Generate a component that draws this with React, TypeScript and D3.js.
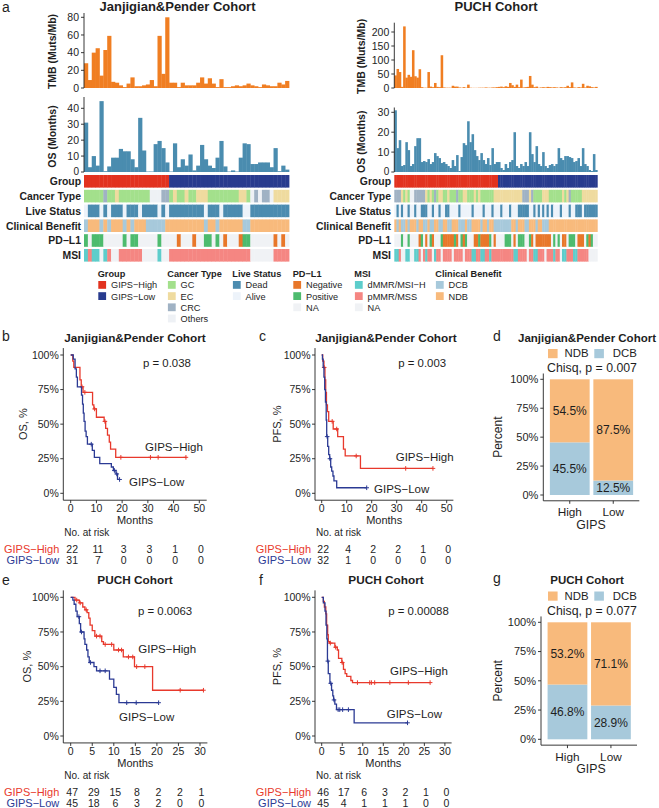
import React from "react";
import * as d3 from "d3";

const FONT = "'Liberation Sans', Arial, Helvetica, sans-serif";
const TXT = "#1e1e1e";

// ---------------- colours ----------------
const COL: Record<string, string> = {
  high: "#E2321F", low: "#283B8E",
  GC: "#A3E08C", EC: "#EFDB9F", CRC: "#A0B2C4", Others: "#EEF1F5",
  Dead: "#4C8CB0", Alive: "#EDF3FA",
  Neg: "#E8772A", Pos: "#4DBB6E", NA: "#F0F2F5",
  dMMR: "#5DCDCB", pMMR: "#F58682",
  DCB: "#A7C9DB", NDB: "#F8BA7C",
  tmb: "#F07E22", os: "#4A8CAF",
  kmHigh: "#E8392C", kmLow: "#2B3A94",
};

// run-length helper for categorical tracks
const rle = (segs: [string, number][]) => segs.flatMap(([c, n]) => Array(n).fill(c));

// ---------------- Panel a : Janjigian & Pender ----------------
const jpTMB = [28, 9, 40, 45, 14, 43, 59, 7, 6, 3, 1, 5, 12, 2, 2, 3, 4, 9, 2, 59, 16, 80, 6, 6, 1, 6, 3, 3, 3, 6, 12, 5, 11, 5, 1, 10, 1, 1, 2, 3, 2, 3, 5, 3, 2, 1, 4, 3, 2, 2, 6, 4, 8];
const jpOS = [31, 3, 10, 4, 44.5, 0.5, 3.5, 9, 9, 14.5, 13, 13, 8, 3, 34, 13.5, 0.3, 0.3, 17.5, 19.5, 15, 6, 0.3, 18, 3, 8, 4, 11, 1, 4, 17, 8, 4, 2.5, 9, 19.5, 3.5, 0.3, 1, 0.3, 9, 18, 17.5, 5, 5, 6, 6, 6, 3, 15, 0.5, 4, 1.5];
const jpGroup = rle([["H", 22], ["L", 31]]);
const jpCancer = rle([["G", 5], ["C", 1], ["G", 2], ["E", 1], ["G", 8], ["O", 3], ["C", 2], ["G", 1], ["E", 1], ["G", 2], ["E", 1], ["G", 2], ["E", 3], ["G", 8], ["E", 2], ["G", 1], ["O", 1], ["C", 1], ["O", 1], ["C", 2], ["O", 1], ["E", 4]]);
const jpLive = rle([["A", 1], ["D", 3], ["A", 1], ["D", 1], ["A", 1], ["D", 3], ["A", 1], ["D", 3], ["A", 1], ["D", 4], ["A", 1], ["D", 1], ["A", 1], ["D", 9], ["A", 1], ["D", 3], ["A", 1], ["D", 5], ["A", 2], ["D", 10]]);
const jpCB = rle([["B", 1], ["N", 3], ["B", 1], ["N", 1], ["B", 1], ["N", 3], ["B", 1], ["N", 1], ["B", 1], ["N", 3], ["B", 5], ["N", 10], ["B", 1], ["N", 2], ["B", 1], ["N", 6], ["B", 2], ["N", 10]]);
const jpPD = rle([["P", 1], ["X", 1], ["P", 3], ["X", 5], ["P", 1], ["X", 1], ["P", 2], ["X", 5], ["P", 1], ["X", 4], ["N", 1], ["X", 3], ["N", 1], ["X", 2], ["P", 2], ["X", 1], ["P", 1], ["X", 1], ["N", 1], ["X", 3], ["N", 1], ["P", 2], ["X", 6], ["N", 1], ["X", 1], ["N", 1], ["X", 1]]);
const jpMSI = rle([["T", 1], ["S", 1], ["T", 2], ["X", 1], ["T", 1], ["S", 1], ["X", 2], ["S", 6], ["X", 4], ["T", 1], ["X", 2], ["S", 21], ["X", 6], ["S", 4]]);

// ---------------- Panel a : PUCH ----------------
const puchTMB = [45, 68, 57, 4, 220, 37, 47, 40, 135, 42, 37, 67, 3, 1, 1, 57, 5, 3, 18, 4, 3, 117, 2, 1, 1, 1, 8, 5, 5, 2, 1, 3, 1, 12, 1, 0.5, 0.5, 0.5, 1, 1, 1, 2, 1, 1, 2, 2, 3,
  4, 5, 3, 6, 4, 18, 10, 4, 12, 3, 30, 2, 3, 4, 43, 12, 3, 5, 1, 2, 3, 2, 4, 3, 2, 3, 2, 1, 3, 2, 3, 8, 3, 20, 2, 1, 3, 2, 15, 2, 8, 6, 3, 2, 4];
const puchOS = [31, 12, 16, 3, 3.5, 15, 11, 3, 4, 13, 17, 17, 5, 5.5, 5, 6.5, 4, 5, 9.5, 8, 7, 4.5, 5, 4, 3, 2, 6, 3, 8.5, 0.5, 7.5, 14.5, 13.5, 25.5, 15, 19, 11, 8, 6, 9.5, 6, 4, 7, 3.5, 12, 4, 5,
  5, 2, 1, 4, 2, 5, 6, 20, 3, 2, 4, 3, 5, 3, 20, 9, 5, 13, 4, 3, 10, 3, 2, 3.5, 4, 3, 4, 12, 7, 6, 8, 8, 7.5, 7, 5, 5.5, 7, 3, 12, 4, 3, 1, 0.5, 9, 1];
const puchGroup = rle([["H", 47], ["L", 45]]);
const puchCancer = rle([["C", 3], ["E", 1], ["G", 1], ["E", 1], ["G", 1], ["O", 2], ["C", 5], ["E", 1], ["G", 1], ["E", 1], ["G", 1], ["C", 1], ["G", 1], ["E", 2], ["G", 2], ["E", 1], ["G", 3], ["C", 1], ["G", 2], ["E", 2], ["G", 3], ["E", 1], ["G", 1], ["E", 1], ["G", 6], ["E", 13], ["C", 3], ["E", 1], ["C", 1], ["G", 4], ["E", 3], ["G", 6], ["E", 1], ["G", 1], ["E", 1], ["C", 1], ["G", 5], ["E", 7]]);
const puchLive = rle([["A", 1], ["D", 1], ["A", 1], ["D", 1], ["A", 2], ["D", 1], ["A", 2], ["D", 1], ["A", 2], ["D", 3], ["A", 2], ["D", 1], ["A", 2], ["D", 1], ["A", 2], ["D", 2], ["A", 4], ["D", 1], ["A", 5], ["D", 1], ["A", 4], ["D", 1], ["A", 3], ["D", 1], ["A", 3], ["D", 1], ["A", 3], ["D", 1], ["A", 3], ["D", 5], ["A", 2], ["D", 1], ["A", 1], ["D", 1], ["A", 1], ["D", 1], ["A", 1], ["D", 1], ["A", 1], ["D", 1], ["A", 3], ["D", 1], ["A", 3], ["D", 1], ["A", 2], ["D", 3], ["A", 1], ["D", 6]]);
const puchCB = rle([["N", 1], ["B", 1], ["N", 1], ["B", 2], ["N", 1], ["B", 1], ["N", 3], ["B", 1], ["N", 2], ["B", 2], ["N", 1], ["B", 2], ["N", 2], ["B", 2], ["N", 2], ["B", 2], ["N", 3], ["B", 3], ["N", 1], ["B", 2], ["N", 4], ["B", 1], ["N", 2], ["B", 1], ["N", 2], ["B", 2],
  ["B", 6], ["N", 2], ["B", 1], ["N", 3], ["B", 2], ["N", 3], ["B", 1], ["N", 2], ["B", 3], ["N", 22]]);
const puchPD = rle([["X", 3], ["P", 1], ["X", 2], ["P", 1], ["X", 4], ["N", 1], ["P", 1], ["X", 1], ["N", 1], ["X", 1], ["P", 1], ["N", 1], ["X", 3], ["P", 1], ["N", 5], ["P", 1], ["N", 1], ["X", 1], ["P", 1], ["N", 1], ["P", 1], ["X", 3], ["N", 2], ["P", 1], ["N", 4], ["P", 1], ["X", 1], ["N", 1], ["X", 1],
  ["X", 3], ["P", 3], ["X", 1], ["N", 1], ["X", 1], ["P", 3], ["X", 2], ["P", 1], ["N", 1], ["X", 1], ["N", 7], ["X", 1], ["P", 1], ["X", 1], ["P", 1], ["X", 1], ["N", 2], ["X", 1], ["P", 3], ["X", 1], ["N", 3], ["X", 1], ["P", 1], ["N", 1], ["P", 1], ["X", 2]]);
const puchMSI = rle([["T", 2], ["S", 1], ["X", 2], ["T", 2], ["X", 2], ["T", 2], ["S", 1], ["X", 1], ["S", 1], ["T", 1], ["S", 2], ["X", 1], ["T", 1], ["S", 2], ["X", 1], ["S", 4], ["X", 1], ["S", 4], ["X", 1], ["S", 3], ["T", 2], ["S", 2], ["T", 2], ["S", 2], ["T", 1], ["S", 3],
  ["S", 7], ["T", 2], ["S", 4], ["X", 1], ["S", 2], ["T", 2], ["S", 3], ["X", 1], ["S", 3], ["T", 1], ["S", 2], ["X", 1], ["T", 2], ["S", 3], ["T", 2], ["S", 5], ["X", 4]]);

const mapGroup: Record<string, string> = { H: COL.high, L: COL.low };
const mapCancer: Record<string, string> = { G: COL.GC, E: COL.EC, C: COL.CRC, O: COL.Others };
const mapLive: Record<string, string> = { D: COL.Dead, A: COL.Alive };
const mapCB: Record<string, string> = { B: COL.DCB, N: COL.NDB };
const mapPD: Record<string, string> = { N: COL.Neg, P: COL.Pos, X: COL.NA };
const mapMSI: Record<string, string> = { T: COL.dMMR, S: COL.pMMR, X: COL.NA };
const trackNames = ["Group", "Cancer Type", "Live Status", "Clinical Benefit", "PD\u2212L1", "MSI"];

const legendGroups: { title: string; items: [string, string][] }[] = [
  { title: "Group", items: [["GIPS\u2212High", COL.high], ["GIPS\u2212Low", COL.low]] },
  { title: "Cancer Type", items: [["GC", COL.GC], ["EC", COL.EC], ["CRC", COL.CRC], ["Others", COL.Others]] },
  { title: "Live Status", items: [["Dead", COL.Dead], ["Alive", COL.Alive]] },
  { title: "PD\u2212L1", items: [["Negative", COL.Neg], ["Positive", COL.Pos], ["NA", COL.NA]] },
  { title: "MSI", items: [["dMMR/MSI\u2212H", COL.dMMR], ["pMMR/MSS", COL.pMMR], ["NA", COL.NA]] },
  { title: "Clinical Benefit", items: [["DCB", COL.DCB], ["NDB", COL.NDB]] },
];

// ---------------- KM data ----------------
type Curve = { t: number[]; s: number[]; end: number; cens: number[] };
const bHigh: Curve = { t: [0.8, 1.2, 3.6, 4.1, 4.8, 8.5, 9.0, 10.0, 13.0, 13.6, 14.3, 15.0, 15.5, 17.5], s: [0.955, 0.91, 0.82, 0.77, 0.73, 0.64, 0.61, 0.55, 0.52, 0.47, 0.42, 0.37, 0.32, 0.26], end: 45, cens: [4.4, 5.5, 9.3, 13.3, 19.5, 31, 34, 44.8] };
const bLow: Curve = { t: [1.0, 1.7, 2.2, 2.6, 4.2, 4.6, 4.9, 5.2, 5.6, 6.0, 6.5, 8.4, 9.2, 11.3, 15.8, 16.6, 17.6, 18.2], s: [0.97, 0.9, 0.84, 0.77, 0.71, 0.645, 0.58, 0.52, 0.45, 0.41, 0.355, 0.31, 0.26, 0.215, 0.19, 0.165, 0.14, 0.1], end: 19, cens: [8.0, 17.0, 17.9, 19] };
const cHigh: Curve = { t: [0.4, 0.9, 1.3, 1.6, 1.9, 2.3, 2.8, 4.6, 6.4, 8.7, 9.4, 15.5], s: [0.955, 0.91, 0.82, 0.73, 0.64, 0.59, 0.52, 0.465, 0.41, 0.32, 0.27, 0.18], end: 44.5, cens: [1.0, 4.2, 6.0, 13.8, 33.6, 44.5] };
const cLow: Curve = { t: [0.3, 0.6, 0.9, 1.2, 1.5, 1.8, 2.0, 2.4, 2.8, 3.2, 3.6, 4.0, 4.5, 4.9, 6.0], s: [0.97, 0.91, 0.84, 0.75, 0.66, 0.53, 0.41, 0.34, 0.28, 0.25, 0.19, 0.16, 0.125, 0.09, 0.04], end: 18, cens: [2.2, 3.3, 18] };
const eHigh: Curve = { t: [1.0, 2.0, 2.8, 3.3, 3.8, 4.2, 4.5, 5.0, 5.6, 7.2, 7.6, 10.0, 12.2, 14.8, 19.0], s: [0.98, 0.96, 0.93, 0.91, 0.89, 0.85, 0.8, 0.76, 0.72, 0.68, 0.66, 0.62, 0.57, 0.5, 0.33], end: 30.8, cens: [1.4, 2.2, 3.6, 6.0, 6.8, 8.0, 9.5, 11.1, 11.8, 13.4, 14.4, 15.3, 17.2, 25.4, 30.8] };
const eLow: Curve = { t: [0.5, 0.8, 1.2, 1.5, 2.0, 2.3, 3.1, 3.3, 3.7, 4.0, 4.3, 5.4, 6.0, 9.0, 10.0, 10.6, 11.2], s: [0.98, 0.95, 0.9, 0.86, 0.81, 0.75, 0.7, 0.66, 0.62, 0.57, 0.53, 0.5, 0.47, 0.41, 0.35, 0.3, 0.24], end: 20.4, cens: [1.9, 2.5, 4.6, 6.8, 8.0, 13.0, 15.2, 20.4] };
const fHigh: Curve = { t: [0.4, 0.65, 1.0, 1.2, 1.45, 1.6, 1.9, 3.2, 3.8, 4.1, 4.9, 5.3, 5.7, 6.1, 7.1, 7.5], s: [0.97, 0.93, 0.88, 0.8, 0.73, 0.68, 0.67, 0.64, 0.62, 0.56, 0.53, 0.48, 0.45, 0.43, 0.4, 0.385], end: 26.4, cens: [2.1, 3.4, 5.0, 8.7, 11.7, 12.1, 12.9, 16.6, 21.1, 26.4] };
const fLow: Curve = { t: [0.4, 0.8, 1.05, 1.25, 1.4, 1.6, 2.0, 2.4, 2.7, 2.9, 3.2, 3.6, 7.9], s: [0.96, 0.9, 0.8, 0.7, 0.54, 0.45, 0.38, 0.33, 0.29, 0.26, 0.23, 0.19, 0.095], end: 20.9, cens: [1.5, 2.2, 3.0, 4.0, 4.4, 5.1, 6.5, 20.9] };

const bRiskHigh = [22, 11, 3, 3, 1, 0];
const bRiskLow = [31, 7, 0, 0, 0, 0];
const cRiskHigh = [22, 4, 2, 2, 1, 0];
const cRiskLow = [32, 1, 0, 0, 0, 0];
const eRiskHigh = [47, 29, 15, 8, 2, 2, 1];
const eRiskLow = [45, 18, 6, 3, 2, 0, 0];
const fRiskHigh = [46, 17, 6, 3, 2, 1, 0];
const fRiskLow = [45, 4, 1, 1, 1, 0, 0];

// ---------------- stacked bar data ----------------
const gipsCats = ["High", "Low"];
const dDCB = [0.455, 0.125];
const gDCB = [0.468, 0.289];

// ====================================================
function RotText({ cx, cy, fs, bold, children }: any) {
  return (
    <text transform={`translate(${cx + 0.35 * fs},${cy}) rotate(-90)`} textAnchor="middle" fontSize={fs} fontWeight={bold ? "bold" : "normal"} fill={TXT}>
      {children}
    </text>
  );
}

function TopPanel(p: any) {
  const n = p.tmb.length;
  const x = d3.scaleBand<number>().domain(d3.range(n)).range([p.x0, p.x1]);
  const bw = x.bandwidth();
  const yT = d3.scaleLinear().domain([0, p.tmbTick]).range([88, p.tmbTickY]);
  const yO = d3.scaleLinear().domain([0, p.osTick]).range([172, p.osTickY]);
  const tracks = [
    [p.group, mapGroup], [p.cancer, mapCancer], [p.live, mapLive], [p.cb, mapCB], [p.pd, mapPD], [p.msi, mapMSI],
  ];
  const ax = p.x0;
  return (
    <g>
      <text x={p.titleX} y={11} textAnchor="middle" fontSize={13} fontWeight="bold" fill={TXT}>{p.title}</text>
      {p.tmb.map((v: number, i: number) => (
        <rect key={"t" + i} x={x(i)} y={yT(v)} width={bw + 0.35} height={88 - yT(v)} fill={COL.tmb} />
      ))}
      <line x1={ax} x2={ax} y1={p.tmbAxisTop} y2={88} stroke="#222" strokeWidth={0.9} />
      {yT.ticks(4).filter((t) => t <= p.tmbTick).map((t) => (
        <g key={"yt" + t}>
          <line x1={ax - 3} x2={ax} y1={yT(t)} y2={yT(t)} stroke="#222" strokeWidth={0.9} />
          <text x={ax - 5} y={yT(t) + 3.6} textAnchor="end" fontSize={10.5} fill={TXT}>{t}</text>
        </g>
      ))}
      <RotText cx={p.ylabX} cy={(p.tmbAxisTop + 88) / 2 + 1} fs={10.5} bold>TMB (Muts/Mb)</RotText>

      {p.os.map((v: number, i: number) => (
        <rect key={"o" + i} x={x(i)} y={yO(v)} width={bw + 0.35} height={172 - yO(v)} fill={COL.os} />
      ))}
      <line x1={ax} x2={ax} y1={p.osAxisTop} y2={172} stroke="#222" strokeWidth={0.9} />
      {p.osTicks.map((t: number) => (
        <g key={"ot" + t}>
          <line x1={ax - 3} x2={ax} y1={yO(t)} y2={yO(t)} stroke="#222" strokeWidth={0.9} />
          <text x={ax - 5} y={yO(t) + (t === 0 ? 2.6 : 3.6)} textAnchor="end" fontSize={t === 0 ? 10 : 10.5} fill={TXT}>{t}</text>
        </g>
      ))}
      <RotText cx={p.ylabX} cy={(p.osAxisTop + 172) / 2 + 2} fs={10.5} bold>OS (Months)</RotText>

      {tracks.map(([codes, cmap]: any, r: number) => {
        const y0 = 175 + r * 14.8;
        return (
          <g key={"tr" + r}>
            {codes.map((c: string, i: number) => (
              <rect key={i} x={x(i)} y={y0} width={bw + 0.4} height={12.6} fill={cmap[c]} />
            ))}
            <text x={p.rowLabelX} y={y0 + 6.3 + 3.9} textAnchor="end" fontSize={10.4} fontWeight="bold" fill={TXT}>{trackNames[r]}</text>
          </g>
        );
      })}
    </g>
  );
}

function Legend() {
  const xs = [97.7, 167.3, 232.3, 292.7, 354.3, 435.3];
  return (
    <g>
      {legendGroups.map((g, gi) => (
        <g key={gi}>
          <text x={xs[gi]} y={277} fontSize={9.2} fontWeight="bold" fill={TXT}>{g.title}</text>
          {g.items.map(([lab, col], i) => (
            <g key={i}>
              <rect x={xs[gi] + 0.6} y={281 + i * 11.2} width={7.8} height={7.8} fill={col} />
              <text x={xs[gi] + 13.3} y={281 + i * 11.2 + 7.3} fontSize={9.2} fill={TXT}>{lab}</text>
            </g>
          ))}
        </g>
      ))}
    </g>
  );
}

function KM(c: any) {
  const x = d3.scaleLinear().domain([0, c.tMax]).range([c.x0, c.x1]);
  const y = d3.scaleLinear().domain([0, 1]).range([c.yBot, c.yTop]);
  const ex = c.x0 - c.axisX;
  const ey = (c.yBot - c.yTop) * 0.05;
  const axisY = c.yBot + ey;
  const right = c.x1 + ex;
  const ticks = d3.range(0, c.tMax + 0.001, c.tStep);
  const yTicks = [0, 0.25, 0.5, 0.75, 1];
  const line = d3.line<[number, number]>().x((d) => x(d[0])).y((d) => y(d[1])).curve(d3.curveStepAfter);
  const survAt = (cv: Curve, t: number) => {
    let s = 1;
    cv.t.forEach((tt, i) => { if (tt <= t) s = cv.s[i]; });
    return s;
  };
  const drawCurve = (cv: Curve, col: string, key: string) => {
    const pts: [number, number][] = [[0, 1], ...cv.t.map((t, i) => [t, cv.s[i]] as [number, number]), [cv.end, cv.s[cv.s.length - 1]]];
    return (
      <g key={key}>
        <path d={line(pts) || ""} fill="none" stroke={col} strokeWidth={1.3} />
        {cv.cens.map((t, i) => {
          const cx = x(t), cy = y(survAt(cv, t));
          return <path key={i} d={`M${cx - 2.3},${cy}h4.6M${cx},${cy - 2.3}v4.6`} stroke={col} strokeWidth={1} />;
        })}
      </g>
    );
  };
  return (
    <g>
      <text x={c.letterX} y={c.letterY} fontSize={14} fill={TXT}>{c.letter}</text>
      <text x={c.titleX} y={c.titleY} textAnchor="middle" fontSize={11.8} fontWeight="bold" fill={TXT}>{c.title}</text>
      <line x1={c.axisX} x2={c.axisX} y1={c.yTop - ey} y2={axisY} stroke="#222" strokeWidth={0.9} />
      <line x1={c.axisX} x2={right} y1={axisY} y2={axisY} stroke="#222" strokeWidth={0.9} />
      {yTicks.map((t) => (
        <g key={"y" + t}>
          <line x1={c.axisX - 3} x2={c.axisX} y1={y(t)} y2={y(t)} stroke="#222" strokeWidth={0.9} />
          <text x={c.axisX - 4.5} y={y(t) + 3.7} textAnchor="end" fontSize={10.5} fill={TXT}>{`${t * 100}%`}</text>
        </g>
      ))}
      {ticks.map((t) => (
        <g key={"x" + t}>
          <line x1={x(t)} x2={x(t)} y1={axisY} y2={axisY + 3} stroke="#222" strokeWidth={0.9} />
          <text x={x(t)} y={axisY + 12} textAnchor="middle" fontSize={10.5} fill={TXT}>{t}</text>
        </g>
      ))}
      <text x={(c.axisX + right) / 2} y={axisY + 23.8} textAnchor="middle" fontSize={11} fill={TXT}>Months</text>
      <RotText cx={c.yLabelX} cy={(c.yTop + c.yBot) / 2} fs={11}>{c.yLabel}</RotText>
      {drawCurve(c.high, COL.kmHigh, "h")}
      {drawCurve(c.low, COL.kmLow, "l")}
      <text x={c.pX} y={c.pY} fontSize={11.4} fill={TXT}>{c.p}</text>
      <text x={c.hiLab[0]} y={c.hiLab[1]} fontSize={11.5} fill={TXT}>GIPS{"\u2212"}High</text>
      <text x={c.loLab[0]} y={c.loLab[1]} fontSize={11.5} fill={TXT}>GIPS{"\u2212"}Low</text>
      <text x={c.axisX + 1} y={axisY + 35.6} fontSize={10} fill={TXT}>No. at risk</text>
      <text x={c.axisX - 4} y={axisY + 52.6} textAnchor="end" fontSize={11} fill={COL.kmHigh}>GIPS{"\u2212"}High</text>
      <text x={c.axisX - 4} y={axisY + 63.6} textAnchor="end" fontSize={11} fill={COL.kmLow}>GIPS{"\u2212"}Low</text>
      {ticks.map((t, i) => (
        <g key={"r" + t}>
          <text x={x(t) + 1.5} y={axisY + 52.6} textAnchor="middle" fontSize={10.5} fill={TXT}>{c.riskHigh[i]}</text>
          <text x={x(t) + 1.5} y={axisY + 63.6} textAnchor="middle" fontSize={10.5} fill={TXT}>{c.riskLow[i]}</text>
        </g>
      ))}
    </g>
  );
}

function StackBar(c: any) {
  const x = d3.scaleBand<string>().domain(gipsCats).range([c.axisX + 3.1, c.axisX + 93.3]).paddingInner(0.085).paddingOuter(0.08);
  const y = d3.scaleLinear().domain([0, 1]).range([c.yBot, c.yTop]);
  const ey = (c.yBot - c.yTop) * 0.05;
  const axisY = c.yBot + ey;
  const pct = (v: number) => `${(v * 100).toFixed(1)}%`;
  return (
    <g>
      <text x={c.letterX} y={c.letterY} fontSize={14} fill={TXT}>{c.letter}</text>
      <text x={c.titleX} y={c.titleY} textAnchor="middle" fontSize={11.5} fontWeight="bold" fill={TXT}>{c.title}</text>
      <rect x={548} y={c.legY} width={9.6} height={9.2} fill={COL.NDB} />
      <text x={564.5} y={c.legY + 8.3} fontSize={11.4} fill={TXT}>NDB</text>
      <rect x={594.3} y={c.legY} width={9.6} height={9.2} fill={COL.DCB} />
      <text x={612.7} y={c.legY + 8.3} fontSize={11.4} fill={TXT}>DCB</text>
      <text x={592} y={c.chiY} textAnchor="middle" fontSize={12.3} fill={TXT}>{c.chi}</text>
      {gipsCats.map((g, i) => {
        const d = c.dcb[i];
        const bx = x(g) as number;
        const bw = x.bandwidth();
        return (
          <g key={g}>
            <rect x={bx} y={y(d)} width={bw} height={c.yBot - y(d)} fill={COL.DCB} />
            <rect x={bx} y={y(1)} width={bw} height={y(d) - y(1)} fill={COL.NDB} />
            <text x={bx + bw / 2} y={y((1 + d) / 2) + 4.2} textAnchor="middle" fontSize={12} fill={TXT}>{pct(1 - d)}</text>
            <text x={bx + bw / 2} y={y(d / 2) + 4.2} textAnchor="middle" fontSize={12} fill={TXT}>{pct(d)}</text>
            <line x1={bx + bw / 2} x2={bx + bw / 2} y1={axisY} y2={axisY + 3} stroke="#222" strokeWidth={0.9} />
            <text x={bx + bw / 2} y={axisY + 15.5} textAnchor="middle" fontSize={11.8} fill={TXT}>{g}</text>
          </g>
        );
      })}
      <line x1={c.axisX} x2={c.axisX} y1={c.yTop - ey} y2={axisY} stroke="#222" strokeWidth={0.9} />
      <line x1={c.axisX} x2={c.axisX + 96} y1={axisY} y2={axisY} stroke="#222" strokeWidth={0.9} />
      {[0, 0.25, 0.5, 0.75, 1].map((t) => (
        <g key={t}>
          <line x1={c.axisX - 3} x2={c.axisX} y1={y(t)} y2={y(t)} stroke="#222" strokeWidth={0.9} />
          <text x={c.axisX - 5} y={y(t) + 3.8} textAnchor="end" fontSize={11} fill={TXT}>{`${t * 100}%`}</text>
        </g>
      ))}
      <text x={591} y={axisY + 28} textAnchor="middle" fontSize={12.3} fill={TXT}>GIPS</text>
      <RotText cx={497.7} cy={(c.yTop + c.yBot) / 2} fs={12}>Percent</RotText>
    </g>
  );
}

export default function App() {
  return (
    <svg width={659} height={808} viewBox="0 0 659 808" fontFamily={FONT} style={{ position: "absolute", left: 0, top: 0, background: "#fff" }}>
      <rect width={659} height={808} fill="#fff" />
      <text x={2} y={12} fontSize={14} fill={TXT}>a</text>
      <TopPanel title="Janjigian&Pender Cohort" titleX={177.5} x0={84} x1={289}
        tmb={jpTMB} os={jpOS} tmbTick={80} tmbTickY={17.3} tmbAxisTop={13}
        osTick={40} osTickY={108.3} osTicks={[0, 10, 20, 30, 40]} osAxisTop={97}
        ylabX={52} rowLabelX={81}
        group={jpGroup} cancer={jpCancer} live={jpLive} cb={jpCB} pd={jpPD} msi={jpMSI} />
      <TopPanel title="PUCH Cohort" titleX={496} x0={394.3} x1={597.3}
        tmb={puchTMB} os={puchOS} tmbTick={200} tmbTickY={32} tmbAxisTop={22.7}
        osTick={30} osTickY={112.3} osTicks={[0, 10, 20, 30]} osAxisTop={107.5}
        ylabX={361} rowLabelX={391}
        group={puchGroup} cancer={puchCancer} live={puchLive} cb={puchCB} pd={puchPD} msi={puchMSI} />
      <Legend />

      <KM letter="b" letterX={2} letterY={341} title="Janjigian&Pender Cohort" titleX={135} titleY={342}
        axisX={63.3} x0={70.7} x1={199.3} tMax={50} tStep={10} yTop={355} yBot={493.3}
        yLabel="OS, %" yLabelX={23} p="p = 0.038" pX={143} pY={367}
        hiLab={[145, 451]} loLab={[129, 485.8]} high={bHigh} low={bLow} riskHigh={bRiskHigh} riskLow={bRiskLow} />
      <KM letter="c" letterX={259} letterY={341} title="Janjigian&Pender Cohort" titleX={386} titleY={342}
        axisX={315} x0={321.7} x1={446.7} tMax={50} tStep={10} yTop={355} yBot={493.3}
        yLabel="PFS, %" yLabelX={276.7} p="p = 0.003" pX={398.3} pY={367}
        hiLab={[395.7, 460.7]} loLab={[374, 493.3]} high={cHigh} low={cLow} riskHigh={cRiskHigh} riskLow={cRiskLow} />
      <StackBar letter="d" letterX={493} letterY={341} title="Janjigian&Pender Cohort" titleX={587} titleY={342}
        legY={349} chi="Chisq, p = 0.007" chiY={372} axisX={543.3} yTop={379.3} yBot={495} dcb={dDCB} />

      <KM letter="e" letterX={2} letterY={585} title="PUCH Cohort" titleX={135} titleY={584}
        axisX={63.3} x0={70.7} x1={200} tMax={30} tStep={5} yTop={597.3} yBot={736}
        yLabel="OS, %" yLabelX={26.7} p="p = 0.0063" pX={138} pY={615}
        hiLab={[138.3, 653]} loLab={[119, 720.7]} high={eHigh} low={eLow} riskHigh={eRiskHigh} riskLow={eRiskLow} />
      <KM letter="f" letterX={259} letterY={585} title="PUCH Cohort" titleX={386} titleY={584}
        axisX={315} x0={321.7} x1={444.9} tMax={30} tStep={5} yTop={597.3} yBot={736}
        yLabel="PFS, %" yLabelX={276.7} p="p = 0.00088" pX={388.3} pY={615}
        hiLab={[390, 675]} loLab={[386.7, 718]} high={fHigh} low={fLow} riskHigh={fRiskHigh} riskLow={fRiskLow} />
      <StackBar letter="g" letterX={493} letterY={583} title="PUCH Cohort" titleX={587} titleY={584}
        legY={591.5} chi="Chisq, p = 0.077" chiY={615} axisX={541} yTop={622.3} yBot={739.3} dcb={gDCB} />
    </svg>
  );
}
